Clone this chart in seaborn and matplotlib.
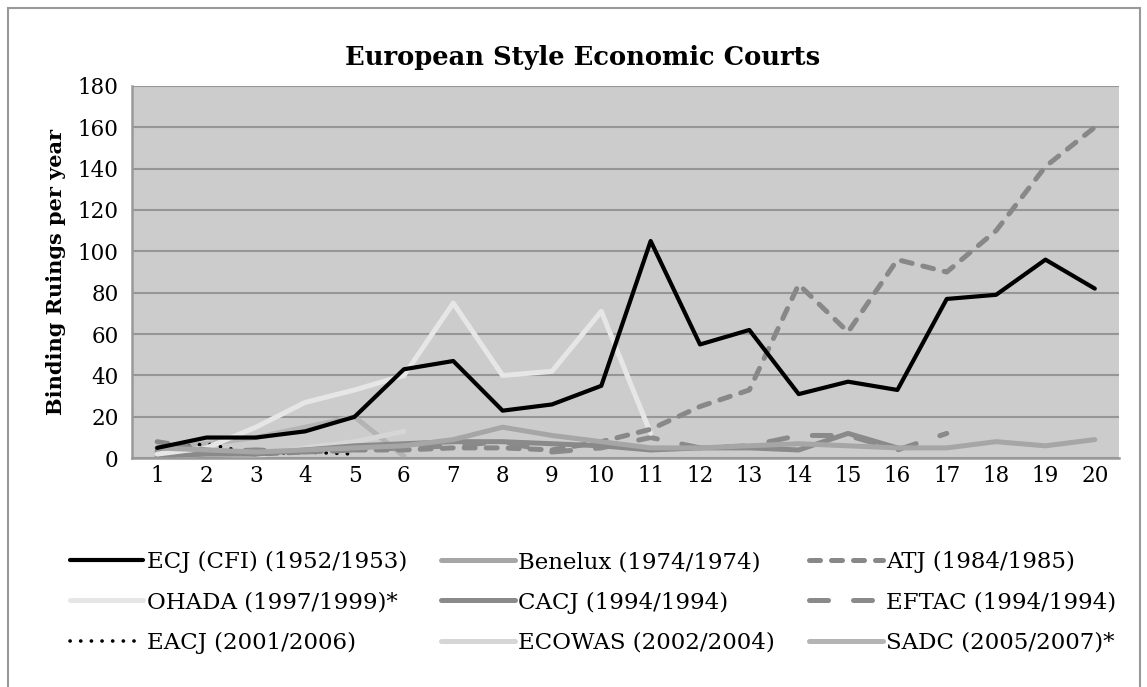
import numpy as np
import pandas as pd
import matplotlib
matplotlib.use("Agg")
import matplotlib.pyplot as plt
import seaborn as sns
from matplotlib.lines import Line2D
from matplotlib.patches import Rectangle

# ---- data ----
years = list(range(1, 21))
ecj = [5, 10, 10, 13, 20, 43, 47, 23, 26, 35, 105, 55, 62, 31, 37, 33, 77, 79, 96, 82]
benelux = [5, 4, 3, 4, 5, 6, 9, 15, 11, 8, 5, 5, 6, 7, 6, 5, 5, 8, 6, 9]
atj = [8, 4, 2, 3, 4, 4, 5, 5, 4, 8, 14, 25, 33, 84, 61, 96, 90, 110, 141, 160]
ohada = [2, 5, 15, 27, 33, 40, 75, 40, 42, 71, 12]
cacj = [1, 2, 2, 4, 6, 7, 8, 8, 7, 6, 4, 5, 5, 4, 12, 5]
eftac = [3, 3, 4, 3, 4, 5, 6, 8, 3, 5, 10, 5, 6, 11, 11, 4, 12]
eacj = [4, 7, 2, 3, 2]
ecowas = [0, 2, 1, 5, 8, 13]
sadc = [5, 7, 10, 15, 20, 1]

labels = ["ECJ (CFI) (1952/1953)", "Benelux (1974/1974)", "ATJ (1984/1985)",
          "OHADA (1997/1999)*", "CACJ (1994/1994)", "EFTAC (1994/1994)",
          "EACJ (2001/2006)", "ECOWAS (2002/2004)", "SADC (2005/2007)*"]
series = [ecj, benelux, atj, ohada, cacj, eftac, eacj, ecowas, sadc]

styles = {
    "ECJ (CFI) (1952/1953)": dict(color="#000000", lw=3.0, dashes=None),
    "Benelux (1974/1974)": dict(color="#a6a6a6", lw=3.6, dashes=None),
    "ATJ (1984/1985)": dict(color="#888888", lw=3.6, dashes=(2.2, 2.2)),
    "OHADA (1997/1999)*": dict(color="#e6e6e6", lw=3.6, dashes=None),
    "CACJ (1994/1994)": dict(color="#8a8a8a", lw=3.6, dashes=None),
    "EFTAC (1994/1994)": dict(color="#8a8a8a", lw=3.6, dashes=(3.8, 5.0)),
    "EACJ (2001/2006)": dict(color="#000000", lw=2.6, dashes=(0.05, 2.9)),
    "ECOWAS (2002/2004)": dict(color="#d6d6d6", lw=3.6, dashes=None),
    "SADC (2005/2007)*": dict(color="#b4b4b4", lw=3.6, dashes=None),
}

rows = []
for lab, vals in zip(labels, series):
    for i, v in enumerate(vals):
        rows.append({"year": years[i], "value": v, "court": lab})
df = pd.DataFrame(rows)

sns.set_theme(style="white")
plt.rcParams["font.family"] = ["DejaVu Serif"]
plt.rcParams["text.color"] = "#000000"
plt.rcParams["axes.labelcolor"] = "#000000"

fig = plt.figure(figsize=(11.47, 6.87), dpi=100)
ax = fig.add_axes([0.1155, 0.333, 0.8605, 0.542])
ax.set_facecolor("#cccccc")

for lab in labels[::-1]:
    st = styles[lab]
    sub = df[df["court"] == lab]
    sns.lineplot(data=sub, x="year", y="value", ax=ax, color=st["color"],
                 linewidth=st["lw"], legend=False, sort=False)
    line = ax.lines[-1]
    line.set_solid_capstyle("round")
    line.set_solid_joinstyle("round")
    line.set_dash_capstyle("round")
    if st["dashes"] is not None:
        line.set_dashes(st["dashes"])

ax.set_xlim(0.5, 20.5)
ax.set_ylim(0, 180)
ax.set_xticks(years)
ax.set_yticks(range(0, 181, 20))
ax.yaxis.grid(True, color="#969696", linewidth=1.5)
ax.set_axisbelow(True)
ax.tick_params(axis="both", labelsize=15.5, length=0, colors="#000000")
ax.tick_params(axis="x", pad=5)
ax.tick_params(axis="y", pad=10)
for s in ["top", "right"]:
    ax.spines[s].set_visible(False)
for s in ["left", "bottom"]:
    ax.spines[s].set_color("#999999")
    ax.spines[s].set_linewidth(1.8)
ax.set_xlabel("")
ax.set_ylabel("Binding Ruings per year", fontsize=15, fontweight="bold",
              labelpad=8, color="#000000")
fig.text(0.508, 0.917, "European Style Economic Courts", fontsize=18.5,
         fontweight="bold", ha="center", va="center", color="#000000")

# legend, row-wise order
handles = {}
for lab in labels:
    st = styles[lab]
    h = Line2D([0], [0], color=st["color"], linewidth=st["lw"],
               solid_capstyle="round", dash_capstyle="round")
    if st["dashes"] is not None:
        h.set_dashes(st["dashes"])
    handles[lab] = h
col_order = [labels[0], labels[3], labels[6],
             labels[1], labels[4], labels[7],
             labels[2], labels[5], labels[8]]
leg = fig.legend([handles[l] for l in col_order], col_order, ncol=3,
                 loc="upper left", bbox_to_anchor=(0.043, 0.228), frameon=False,
                 fontsize=16.5, handlelength=3.2, handletextpad=0.15,
                 columnspacing=1.5, labelspacing=0.8)
for t in leg.get_texts():
    t.set_color("#000000")

fig.patches.append(Rectangle((0.007, -0.02), 0.987, 1.008, transform=fig.transFigure,
                             fill=False, edgecolor="#999999", linewidth=1.5))

fig.savefig("out.png", dpi=100)
